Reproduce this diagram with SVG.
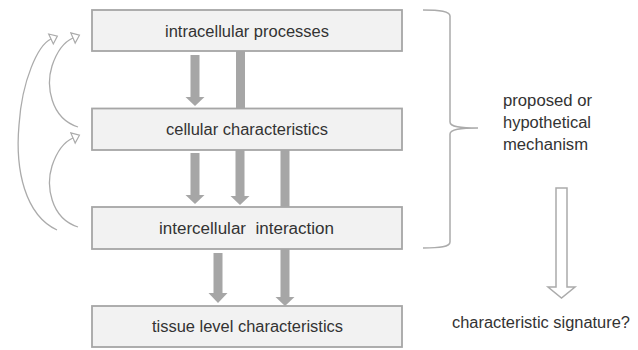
<svg xmlns="http://www.w3.org/2000/svg" width="638" height="350" viewBox="0 0 638 350">
<style>
.box{fill:#f2f2f2;stroke:#a6a6a6;stroke-width:1.8}
.lbl{font-family:"Liberation Sans",Arial,sans-serif;font-size:16px;fill:#333}
.bar{fill:#a6a6a6}
.curve{fill:none;stroke:#ababab;stroke-width:1.3}
.brace{fill:none;stroke:#ababab;stroke-width:1.5}
</style>
<defs>
<marker id="open" viewBox="-1 -7 10 14" markerWidth="10" markerHeight="14" refX="0" refY="0" orient="auto" markerUnits="userSpaceOnUse">
<path d="M0,-5.5 L7,0 L0,5.5 Z" fill="#fff" stroke="#ababab" stroke-width="1.2"/>
</marker>
</defs>
<rect width="638" height="350" fill="#fff"/>
<g id="connectors">
<rect class="bar" x="190.5" y="55" width="9" height="42"/>
<polygon class="bar" points="185.5,97 204.5,97 195,106"/>
<rect class="bar" x="236" y="51" width="9" height="57"/>
<rect class="bar" x="190.5" y="153" width="9" height="42"/>
<polygon class="bar" points="185.5,195 204.5,195 195,204"/>
<rect class="bar" x="235.5" y="150" width="9" height="46"/>
<polygon class="bar" points="230.5,196 249.5,196 240,205"/>
<rect class="bar" x="280.5" y="150" width="9" height="57"/>
<rect class="bar" x="213.5" y="253" width="9" height="40"/>
<polygon class="bar" points="208.5,293 227.5,293 218,303"/>
<rect class="bar" x="280.5" y="249" width="9" height="48"/>
<polygon class="bar" points="275.5,297 294.5,297 285,306"/>
<path class="curve" d="M57,230 C25,215 15,170 19,125 C22,80 38,45 51,39" marker-end="url(#open)"/>
<path class="curve" d="M78,127 C50,118 46,85 52,66 C58,48 66,41 73,38" marker-end="url(#open)"/>
<path class="curve" d="M78,227 C50,218 46,185 52,166 C58,148 66,141 73,138" marker-end="url(#open)"/>
<path class="brace" d="M423,10 C440,10 450,11 450,16 L450,122 C450,127 460,128 478,128 C460,128 450,129 450,134 L450,242 C450,247 440,248 423,248"/>
<polygon points="556,188 567,188 567,287 575,287 561.5,298 548,287 556,287" fill="#fff" stroke="#ababab" stroke-width="1.5"/>
</g>
<g id="intracellular">
<rect class="box" x="92" y="10" width="310" height="41"/>
<text class="lbl" x="247" y="36.5" text-anchor="middle" textLength="164" lengthAdjust="spacingAndGlyphs">intracellular processes</text>
</g>
<g id="cellular">
<rect class="box" x="92" y="108.5" width="310" height="41.5"/>
<text class="lbl" x="247" y="135" text-anchor="middle" textLength="162" lengthAdjust="spacingAndGlyphs">cellular characteristics</text>
</g>
<g id="intercellular">
<rect class="box" x="92" y="207" width="310" height="42"/>
<text class="lbl" x="246.5" y="234" text-anchor="middle" textLength="175" lengthAdjust="spacingAndGlyphs" xml:space="preserve">intercellular  interaction</text>
</g>
<g id="tissue">
<rect class="box" x="92" y="306" width="310" height="41"/>
<text class="lbl" x="247.5" y="332" text-anchor="middle" textLength="191" lengthAdjust="spacingAndGlyphs">tissue level characteristics</text>
</g>
<g id="mechanism">
<text class="lbl" x="503" y="106" textLength="89" lengthAdjust="spacingAndGlyphs">proposed or</text>
<text class="lbl" x="503" y="128" textLength="88" lengthAdjust="spacingAndGlyphs">hypothetical</text>
<text class="lbl" x="503" y="150" textLength="85" lengthAdjust="spacingAndGlyphs">mechanism</text>
</g>
<g id="signature">
<text class="lbl" x="452" y="328" textLength="178" lengthAdjust="spacingAndGlyphs">characteristic signature?</text>
</g>
</svg>
